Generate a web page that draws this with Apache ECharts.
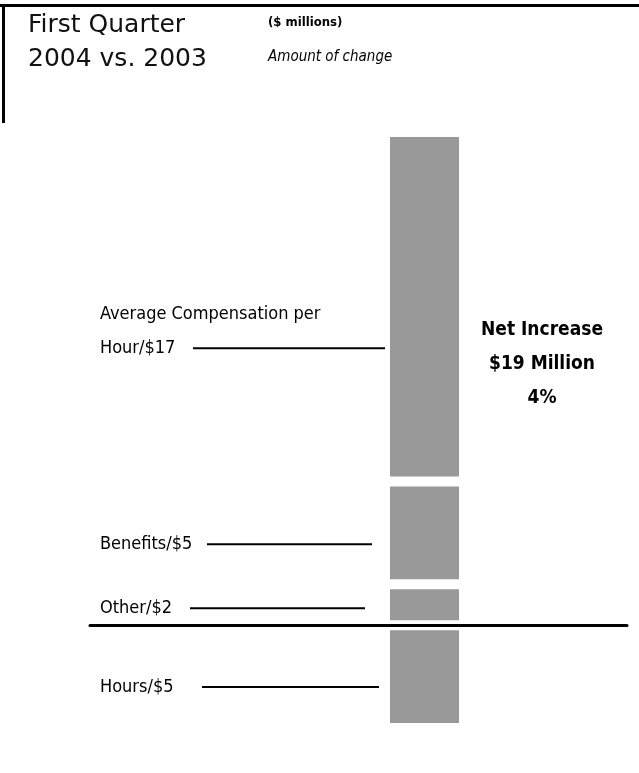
<!DOCTYPE html>
<html>
<head>
<meta charset="utf-8">
<script src="https://cdn.jsdelivr.net/npm/echarts@6/dist/echarts.min.js"></script>
<style>
  html, body { margin: 0; padding: 0; background: #fff; }
  #chart { width: 639px; height: 773px; }
</style>
</head>
<body>
<div id="chart"></div>
<script>
// Components of the first-quarter change, 2004 vs. 2003 ($ millions)
const categories = ['Change'];
const segmentNames = ['Hours', 'Other', 'Benefits', 'Average Compensation per\nHour'];
const segmentValues = [-5, 2, 5, 17];
const netPercent = '4%';

const NARROW = '"DejaVu Sans Condensed", "DejaVu Sans", sans-serif';
const LABEL_SIZE = 18;
const BAR_GRAY = '#999999';
const LABEL_X = 100;   // left edge of the segment labels
const BAR_LEFT = 385;  // left edge of the bar's layout box

// Label placement per segment: vertical nudge and where its leader runs
const leaderStyle = [
  { dy: 10.5, from: 202, to: 379 },
  { dy: 3.5, from: 190, to: 365 },
  { dy: 11.5, from: 207, to: 372 },
  { dy: 24.5, from: 193, to: 385 }
];

const total = segmentValues.reduce((a, b) => a + b, 0);
const posSum = segmentValues.filter(v => v > 0).reduce((a, b) => a + b, 0);
const negSum = segmentValues.filter(v => v < 0).reduce((a, b) => a + b, 0);

const measureCtx = document.createElement('canvas').getContext('2d');
measureCtx.font = LABEL_SIZE + 'px ' + NARROW;

function labelLines(name, value) {
  return (name + '/$' + Math.abs(value)).split('\n');
}

const series = segmentNames.map((name, i) => {
  const lines = labelLines(name, segmentValues[i]);
  const lastWidth = measureCtx.measureText(lines[lines.length - 1]).width;
  const st = leaderStyle[i];
  const gap = Math.max(6, st.from - LABEL_X - lastWidth);
  const len = st.to - (LABEL_X + lastWidth + gap);
  const text = lines.map((l, k) => k === lines.length - 1
    ? '{t|' + l + '}{g|}{ln|}'
    : '{t|' + l + '}').join('\n');
  return {
    name: name,
    type: 'bar',
    stack: 'change',
    xAxisIndex: 0,
    yAxisIndex: 0,
    barWidth: 79,
    data: [segmentValues[i]],
    itemStyle: { color: BAR_GRAY, borderColor: '#ffffff', borderWidth: 5 },
    silent: true,
    label: {
      show: true,
      position: 'insideLeft',
      distance: 0,
      offset: [LABEL_X - BAR_LEFT, st.dy],
      formatter: () => text,
      rich: {
        t: { fontFamily: NARROW, fontSize: LABEL_SIZE, color: '#000', lineHeight: 34 },
        g: { width: gap, height: 2 },
        ln: { width: len, height: 2, backgroundColor: '#000' }
      }
    }
  };
});

const chart = echarts.init(document.getElementById('chart'), null, { renderer: 'canvas' });

chart.setOption({
  backgroundColor: '#ffffff',
  animation: false,
  grid: [
    { left: BAR_LEFT, width: 79, top: 132, bottom: 45 },
    { left: 90, right: 12, top: 132, bottom: 45 }
  ],
  xAxis: [
    { gridIndex: 0, type: 'category', data: categories, show: false },
    {
      gridIndex: 1, type: 'category', data: categories, z: 5,
      axisLine: { show: true, onZero: true, lineStyle: { color: '#000', width: 3 } },
      axisTick: { show: false }, axisLabel: { show: false }, splitLine: { show: false }
    }
  ],
  yAxis: [
    { gridIndex: 0, type: 'value', min: negSum, max: posSum, show: false },
    { gridIndex: 1, type: 'value', min: negSum, max: posSum, show: false }
  ],
  graphic: [
    { type: 'line', shape: { x1: 0, y1: 5.5, x2: 639, y2: 5.5 }, style: { stroke: '#000', lineWidth: 3 } },
    { type: 'line', shape: { x1: 3.5, y1: 4, x2: 3.5, y2: 123 }, style: { stroke: '#000', lineWidth: 3 } },
    {
      type: 'text', x: 28, y: 8,
      style: { text: 'First Quarter\n2004 vs. 2003', font: '25px "DejaVu Sans"', lineHeight: 34,
        fill: '#111', align: 'left', verticalAlign: 'top', textAlign: 'left', textVerticalAlign: 'top' }
    },
    {
      type: 'text', x: 268, y: 15,
      style: { text: '($ millions)', font: 'bold 13px ' + NARROW, lineHeight: 16,
        fill: '#000', align: 'left', verticalAlign: 'top', textAlign: 'left', textVerticalAlign: 'top' }
    },
    {
      type: 'text', x: 268, y: 48,
      style: { text: 'Amount of change', font: 'italic 15px ' + NARROW, lineHeight: 18,
        fill: '#000', align: 'left', verticalAlign: 'top', textAlign: 'left', textVerticalAlign: 'top' }
    },
    {
      type: 'text', x: 542, y: 313,
      style: { text: 'Net Increase\n$' + total + ' Million\n' + netPercent, font: 'bold 19px ' + NARROW,
        lineHeight: 34, fill: '#000', align: 'center', verticalAlign: 'top',
        textAlign: 'center', textVerticalAlign: 'top' }
    }
  ],
  series: series
});
</script>
</body>
</html>
